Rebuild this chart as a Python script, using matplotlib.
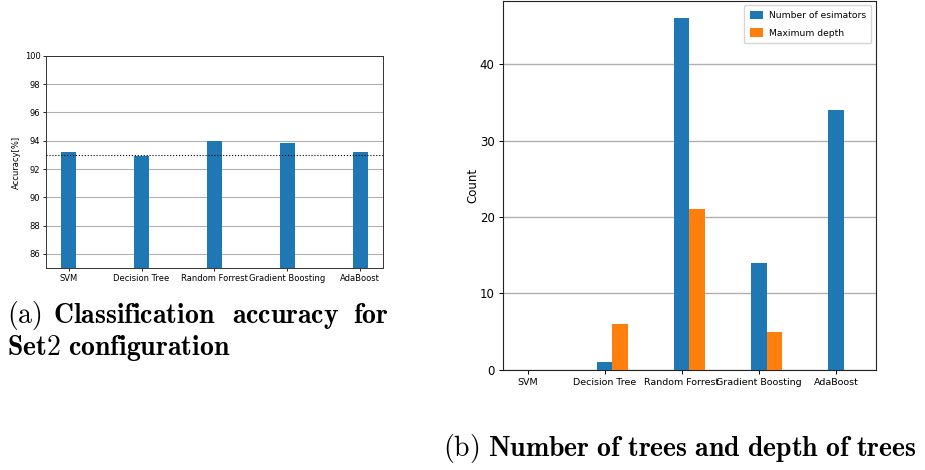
import numpy as np
import matplotlib.pyplot as plt

# ---------------- data ----------------
models = ['SVM', 'Decision Tree', 'Random Forrest', 'Gradient Boosting', 'AdaBoost']
accuracy = [93.22, 92.94, 94.0, 93.87, 93.2]
baseline_acc = 93.0
n_estimators = [0, 1, 46, 14, 34]
max_depth = [0, 6, 21, 5, 0]

plt.rcParams['mathtext.fontset'] = 'cm'

fig = plt.figure(figsize=(9.25, 4.7), dpi=100)

# ---------------- (a) accuracy ----------------
ax1 = fig.add_axes([0.0497, 0.4298, 0.3643, 0.4512])
x = np.arange(len(models))
ax1.bar(x, accuracy, 0.2, color='#1f77b4', zorder=3)
ax1.axhline(baseline_acc, color='k', ls=':', lw=0.8, zorder=4)
ax1.set_ylim(85, 100)
ax1.set_yticks(np.arange(86, 101, 2))
ax1.set_xticks(x)
ax1.set_xticklabels(models)
ax1.tick_params(labelsize=6, length=2, width=0.6, pad=2)
ax1.set_ylabel('Accuracy[%]', fontsize=6, labelpad=3)
ax1.grid(axis='y', color='#b0b0b0', lw=0.8, zorder=0)
for s in ax1.spines.values():
    s.set_linewidth(0.7)
    s.set_color('#333333')

# ---------------- (b) trees / depth ----------------
ax2 = fig.add_axes([0.5438, 0.2128, 0.4032, 0.786])
ax2.bar(x, n_estimators, 0.2, color='#1f77b4', label='Number of esimators', zorder=3)
ax2.bar(x + 0.2, max_depth, 0.2, color='#ff7f0e', label='Maximum depth', zorder=3)
ax2.set_yticks([0, 10, 20, 30, 40])
ax2.set_xticks(x)
ax2.set_xticklabels(models, fontsize=6.8)
ax2.tick_params(axis='y', labelsize=8.5)
ax2.tick_params(length=3, width=0.7, pad=3)
ax2.set_ylabel('Count', fontsize=8.5, labelpad=0)
ax2.grid(axis='y', color='#b0b0b0', lw=1.0, zorder=0)
ax2.legend(loc='upper right', fontsize=6.6, handlelength=1.5, handleheight=1.1,
           borderpad=0.6, labelspacing=0.9, handletextpad=0.6)
for s in ax2.spines.values():
    s.set_linewidth(0.8)
    s.set_color('#222222')

# ---------------- captions ----------------
H, W = 470.0, 925.0
cap = dict(fontsize=20, va='baseline')
fig.text(7 / W, 1 - 323 / H, r'$\mathrm{(a)}$', ha='left', **cap)
fig.text(53 / W, 1 - 323 / H, r'$\mathbf{Classification}$', ha='left', **cap)
fig.text(232 / W, 1 - 323 / H, r'$\mathbf{accuracy}$', ha='left', **cap)
fig.text(388 / W, 1 - 323 / H, r'$\mathbf{for}$', ha='right', **cap)
fig.text(7 / W, 1 - 355 / H, r'$\mathbf{Set2\ configuration}$', ha='left', **cap)
fig.text(443 / W, 1 - 456 / H, r'$\mathrm{(b)}\ \mathbf{Number\ of\ trees\ and\ depth\ of\ trees}$',
         ha='left', **cap)

fig.savefig('out.png', dpi=100)
